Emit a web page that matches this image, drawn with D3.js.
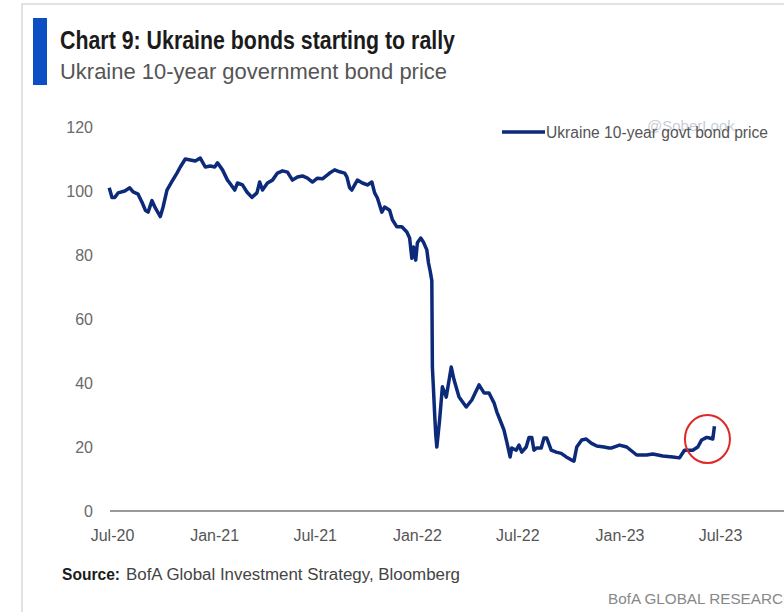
<!DOCTYPE html>
<html>
<head>
<meta charset="utf-8">
<script src="https://cdn.jsdelivr.net/npm/d3@7"></script>
<style>
    body { margin: 0; background: #fff; }
    text { font-family: "Liberation Sans", Arial, sans-serif; }
</style>
</head>
<body>
<div id="chart"></div>
<script>
// Ukraine 10-year govt bond price
const dates = [
    "2020-06-26","2020-07-01","2020-07-06","2020-07-12","2020-07-24","2020-08-02","2020-08-08","2020-08-17",
    "2020-08-24","2020-08-30","2020-09-04","2020-09-11","2020-09-17","2020-09-26","2020-10-01","2020-10-08",
    "2020-10-17","2020-10-26","2020-11-01","2020-11-10","2020-11-19","2020-11-28","2020-12-07","2020-12-16",
    "2020-12-25","2021-01-02","2021-01-07","2021-01-16","2021-01-25","2021-01-29","2021-02-07","2021-02-12",
    "2021-02-21","2021-03-01","2021-03-10","2021-03-19","2021-03-24","2021-03-29","2021-04-07","2021-04-16",
    "2021-04-25","2021-05-04","2021-05-13","2021-05-22","2021-05-31","2021-06-09","2021-06-18","2021-06-27",
    "2021-07-06","2021-07-15","2021-07-28","2021-08-06","2021-08-15","2021-08-24","2021-08-28","2021-09-02",
    "2021-09-06","2021-09-11","2021-09-16","2021-09-25","2021-10-04","2021-10-12","2021-10-17","2021-10-22",
    "2021-10-30","2021-11-04","2021-11-13","2021-11-18","2021-11-26","2021-12-05","2021-12-14","2021-12-19",
    "2021-12-23","2021-12-26","2021-12-30","2022-01-02","2022-01-08","2022-01-13","2022-01-19","2022-01-22",
    "2022-01-25","2022-01-28","2022-01-29","2022-01-31","2022-02-02","2022-02-04","2022-02-06","2022-02-11",
    "2022-02-16","2022-02-23","2022-03-04","2022-03-09","2022-03-18","2022-03-31","2022-04-10","2022-04-23",
    "2022-05-02","2022-05-11","2022-05-20","2022-05-25","2022-06-02","2022-06-07","2022-06-12","2022-06-18",
    "2022-06-21","2022-06-29","2022-07-04","2022-07-09","2022-07-17","2022-07-22","2022-07-27","2022-07-31",
    "2022-08-05","2022-08-13","2022-08-18","2022-08-23","2022-08-31","2022-09-09","2022-09-18","2022-09-27",
    "2022-10-06","2022-10-11","2022-10-16","2022-10-25","2022-11-02","2022-11-11","2022-11-21","2022-12-04",
    "2022-12-13","2022-12-18","2023-01-01","2023-01-14","2023-02-01","2023-02-19","2023-03-02","2023-03-20",
    "2023-04-07","2023-04-19","2023-04-28","2023-05-13","2023-05-22","2023-05-29","2023-06-07","2023-06-12",
    "2023-06-18","2023-06-21"
];
const prices = [
    101,98,98,99.4,100,101,99.7,99,
    96.5,94,93.4,97,94.7,92,95,100.3,
    103,105.6,107.5,110,109.7,109.4,110.3,107.5,
    107.8,107.5,108.8,106.6,103.4,102.5,100.3,102.5,
    101.9,99.7,98,99.4,102.8,100.3,102.5,103.4,
    105.6,106.3,105.9,103.4,104.4,104.7,104,102.8,
    104,103.8,105.6,106.6,106,105.6,104.4,101,
    100.3,101.9,103.4,102.5,101.9,102.8,99.4,97.8,
    93.4,95,94,91,88.8,88.8,87.2,85.3,
    79,82.5,78.4,83.8,85.3,84,81.6,77.5,
    75,72,45,38,30.6,24,20,28.4,
    38.8,35.6,45,41,35.6,32.5,34.7,39.4,
    36.9,36.9,33.8,31,27.5,25.3,21.6,16.9,
    19.7,19,20.6,18.4,20,23,23,19,
    19.7,19.7,22.8,22.8,19,18.4,18,16.9,
    16,15.6,20,22.2,22.5,21.2,20.3,20,
    19.7,19.7,20.6,20,17.5,17.5,17.8,17.2,
    16.9,16.6,19,19,20,22.2,23,22.8,
    22.5,26.5
];
const tickDates = ["2020-07-01","2021-01-01","2021-07-01","2022-01-01","2022-07-01","2023-01-01","2023-07-01"];
const yTicks = [0, 20, 40, 60, 80, 100, 120];
const seriesName = "Ukraine 10-year govt bond price";

class LineChart {
    constructor(dates, prices) {
        this.data = dates.map((d, i) => ({date: d3.timeParse("%Y-%m-%d")(d), price: prices[i]}));
        this.initVis();
    }

    initVis() {
        let vis = this;

        vis.width = 784;
        vis.height = 612;

        vis.svg = d3.select("#chart")
            .append("svg")
            .attr("width", vis.width)
            .attr("height", vis.height);

        // frame + blue marker
        vis.svg.append("rect")
            .attr("x", 22).attr("y", 4)
            .attr("width", 800).attr("height", 640)
            .attr("fill", "none")
            .attr("stroke", "#d9d9d9")
            .attr("stroke-width", 1.5);

        vis.svg.append("rect")
            .attr("x", 33).attr("y", 18)
            .attr("width", 14).attr("height", 67)
            .attr("fill", "#0c4fc4");

        // titles
        vis.svg.append("text")
            .attr("x", 60).attr("y", 49)
            .attr("font-size", 25)
            .attr("font-weight", "bold")
            .attr("fill", "#1b1b1b")
            .attr("textLength", 395)
            .attr("lengthAdjust", "spacingAndGlyphs")
            .text("Chart 9: Ukraine bonds starting to rally");

        vis.svg.append("text")
            .attr("x", 60).attr("y", 79)
            .attr("font-size", 22)
            .attr("fill", "#555")
            .attr("textLength", 387)
            .attr("lengthAdjust", "spacingAndGlyphs")
            .text("Ukraine 10-year government bond price");

        // scales
        vis.x = d3.scaleTime()
            .domain([new Date(2020, 6, 1), new Date(2023, 6, 1)])
            .range([112, 720]);

        vis.y = d3.scaleLinear()
            .domain([0, 120])
            .range([511, 127]);

        // y axis, labels only
        let yAxis = d3.axisLeft(vis.y)
            .tickValues(yTicks)
            .tickSize(0)
            .tickPadding(0);

        vis.svg.append("g")
            .attr("transform", "translate(93,0)")
            .call(yAxis)
            .call(g => g.select(".domain").remove())
            .selectAll("text")
            .attr("font-size", 16)
            .attr("fill", "#6a6a6a")
            .attr("dy", "0.35em");

        // x axis
        let xAxis = d3.axisBottom(vis.x)
            .tickValues(tickDates.map(d3.timeParse("%Y-%m-%d")))
            .tickFormat(d3.timeFormat("%b-%y"))
            .tickSize(0)
            .tickPadding(19);

        vis.svg.append("g")
            .attr("transform", "translate(0,511)")
            .call(xAxis)
            .call(g => g.select(".domain").remove())
            .selectAll("text")
            .attr("font-size", 16)
            .attr("fill", "#555");

        vis.svg.append("line")
            .attr("x1", 110).attr("x2", 784)
            .attr("y1", vis.y(0)).attr("y2", vis.y(0))
            .attr("stroke", "#777")
            .attr("stroke-width", 1.5);

        // the line
        let line = d3.line()
            .x(d => vis.x(d.date))
            .y(d => vis.y(d.price));

        vis.svg.append("path")
            .datum(vis.data)
            .attr("d", line)
            .attr("fill", "none")
            .attr("stroke", "#0d2a7a")
            .attr("stroke-width", 3.5)
            .attr("stroke-linejoin", "round");

        // red circle round the rally
        let last = vis.data[vis.data.length - 1];
        vis.svg.append("ellipse")
            .attr("cx", vis.x(last.date) - 7)
            .attr("cy", vis.y(22.5))
            .attr("rx", 22.5).attr("ry", 24)
            .attr("fill", "none")
            .attr("stroke", "#e02828")
            .attr("stroke-width", 2);

        // legend
        vis.svg.append("line")
            .attr("x1", 502).attr("x2", 545)
            .attr("y1", 132).attr("y2", 132)
            .attr("stroke", "#0d2a7a")
            .attr("stroke-width", 3.5);

        vis.svg.append("text")
            .attr("x", 647).attr("y", 131)
            .attr("font-size", 15)
            .attr("fill", "#c9cdd8")
            .text("@SoberLook");

        vis.svg.append("text")
            .attr("x", 546).attr("y", 138)
            .attr("font-size", 16)
            .attr("fill", "#555")
            .attr("textLength", 222)
            .attr("lengthAdjust", "spacingAndGlyphs")
            .text(seriesName);

        // source
        vis.svg.append("text")
            .attr("x", 62).attr("y", 580)
            .attr("font-size", 16)
            .attr("font-weight", "bold")
            .attr("fill", "#1b1b1b")
            .attr("textLength", 58)
            .attr("lengthAdjust", "spacingAndGlyphs")
            .text("Source:");

        vis.svg.append("text")
            .attr("x", 126).attr("y", 580)
            .attr("font-size", 16)
            .attr("fill", "#444")
            .attr("textLength", 334)
            .attr("lengthAdjust", "spacingAndGlyphs")
            .text("BofA Global Investment Strategy, Bloomberg");

        vis.svg.append("text")
            .attr("x", 608).attr("y", 604)
            .attr("font-size", 15)
            .attr("fill", "#888")
            .attr("textLength", 186)
            .attr("lengthAdjust", "spacingAndGlyphs")
            .text("BofA GLOBAL RESEARCH");
    }
}

new LineChart(dates, prices);
</script>
</body>
</html>
